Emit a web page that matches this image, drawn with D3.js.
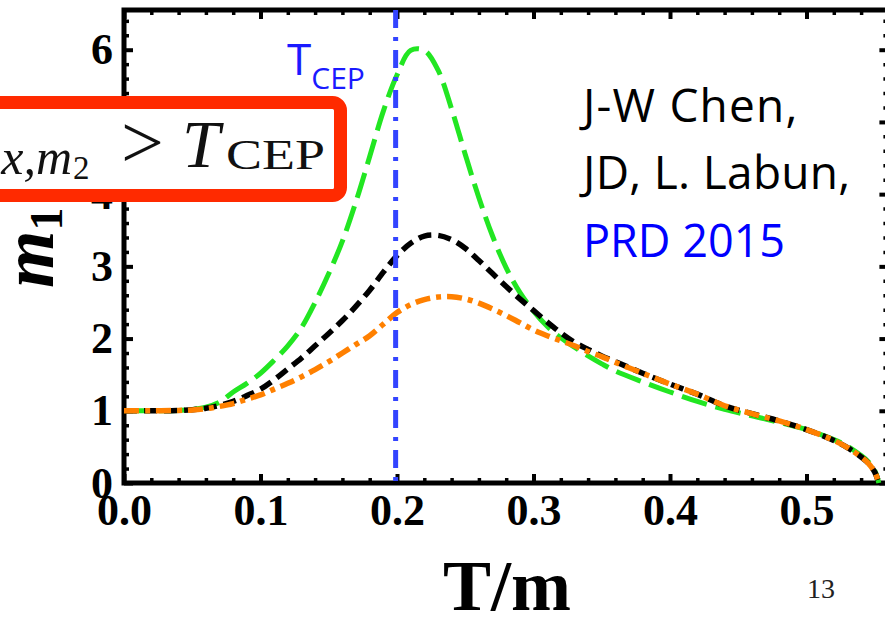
<!DOCTYPE html>
<html>
<head>
<meta charset="utf-8">
<script src="https://cdn.jsdelivr.net/npm/d3@7"></script>
<style>
  body { margin: 0; background: #fff; }
  svg { display: block; }
</style>
</head>
<body>
<div id="chart"></div>
<script>
// Canvas size
const width = 885;
const height = 621;

// Data (T/m on x, m1 on y)
const tGrid = [0, 0.02, 0.04, 0.05, 0.06, 0.07, 0.08, 0.09, 0.10, 0.11, 0.12, 0.13, 0.14, 0.15,
  0.16, 0.17, 0.18, 0.19, 0.20, 0.21, 0.22, 0.23, 0.24, 0.25, 0.26, 0.27, 0.28, 0.29, 0.30,
  0.31, 0.32, 0.33, 0.34, 0.35, 0.36, 0.38, 0.40, 0.42, 0.44, 0.46, 0.48, 0.50, 0.52, 0.53,
  0.54, 0.545, 0.55, 0.553];

const greenM = [1.0, 1.0, 1.005, 1.02, 1.05, 1.12, 1.26, 1.38, 1.52, 1.70, 1.90, 2.15, 2.50, 2.90,
  3.35, 3.90, 4.52, 5.15, 5.65, 5.99, 5.99, 5.72, 5.18, 4.55, 3.95, 3.42, 2.98, 2.64, 2.38,
  2.17, 2.01, 1.88, 1.76, 1.65, 1.55, 1.40, 1.26, 1.13, 1.02, 0.93, 0.84, 0.74, 0.60, 0.51,
  0.38, 0.30, 0.17, 0.0];

const blackM = [1.0, 1.0, 1.005, 1.015, 1.035, 1.075, 1.13, 1.21, 1.30, 1.43, 1.58, 1.73, 1.90, 2.07,
  2.25, 2.45, 2.67, 2.92, 3.15, 3.32, 3.42, 3.43, 3.37, 3.25, 3.08, 2.90, 2.72, 2.55, 2.39,
  2.23, 2.08, 1.95, 1.85, 1.76, 1.68, 1.52, 1.37, 1.23, 1.07, 0.96, 0.86, 0.74, 0.59, 0.49,
  0.36, 0.28, 0.15, 0.0];

const orangeM = [1.0, 1.0, 1.005, 1.012, 1.03, 1.06, 1.10, 1.16, 1.22, 1.30, 1.38, 1.47, 1.57, 1.68,
  1.80, 1.92, 2.04, 2.20, 2.36, 2.47, 2.54, 2.575, 2.58, 2.55, 2.49, 2.41, 2.32, 2.22, 2.12,
  2.04, 1.97, 1.90, 1.82, 1.75, 1.67, 1.52, 1.37, 1.23, 1.07, 0.96, 0.86, 0.74, 0.59, 0.49,
  0.36, 0.28, 0.15, 0.0];

const tCep = 0.199;

// Tick values
const xMajor = [0, 0.1, 0.2, 0.3, 0.4, 0.5];
const xMinor = d3.range(0.02, 0.56, 0.02).filter(v => Math.abs(v * 10 - Math.round(v * 10)) > 1e-6);
const yMajor = [0, 1, 2, 3, 4, 5, 6];
const yMinor = d3.range(0.2, 6.55, 0.2).filter(v => Math.abs(v - Math.round(v)) > 1e-6);

const svg = d3.select("#chart").append("svg")
    .attr("width", width)
    .attr("height", height);

svg.append("rect").attr("width", width).attr("height", height).attr("fill", "#fff");

// Scales
const x = d3.scaleLinear().domain([0, 0.56]).range([124, 888.4]);
const y = d3.scaleLinear().domain([0, 6.55]).range([483, 10]);

const tickFont = "'Liberation Serif', 'Times New Roman', serif";

// Axes with inward ticks on all four sides
function styleAxis(g, width) {
  g.select(".domain").remove();
  g.selectAll("line").attr("stroke", "#000").attr("stroke-width", width);
}

// minor ticks
svg.append("g").attr("transform", `translate(0,${y(0)})`)
  .call(d3.axisBottom(x).tickValues(xMinor).tickSize(-5).tickSizeOuter(0).tickFormat(""))
  .call(g => styleAxis(g, 3.5));
svg.append("g").attr("transform", `translate(0,${y(6.55)})`)
  .call(d3.axisTop(x).tickValues(xMinor).tickSize(-5).tickSizeOuter(0).tickFormat(""))
  .call(g => styleAxis(g, 3.5));
svg.append("g").attr("transform", `translate(${x(0)},0)`)
  .call(d3.axisLeft(y).tickValues(yMinor).tickSize(-5).tickSizeOuter(0).tickFormat(""))
  .call(g => styleAxis(g, 3.5));
svg.append("g").attr("transform", `translate(${x(0.56)},0)`)
  .call(d3.axisRight(y).tickValues(yMinor).tickSize(-5).tickSizeOuter(0).tickFormat(""))
  .call(g => styleAxis(g, 3.5));

// major ticks with labels
const xAxis = svg.append("g").attr("transform", `translate(0,${y(0)})`)
  .call(d3.axisBottom(x).tickValues(xMajor).tickSize(-9).tickSizeOuter(0).tickPadding(11)
    .tickFormat(d3.format(".1f")))
  .call(g => styleAxis(g, 4));
xAxis.selectAll("text")
  .attr("font-family", tickFont).attr("font-weight", "bold")
  .attr("font-size", 44).attr("fill", "#000");

const yAxis = svg.append("g").attr("transform", `translate(${x(0)},0)`)
  .call(d3.axisLeft(y).tickValues(yMajor).tickSize(-9).tickSizeOuter(0).tickPadding(11)
    .tickFormat(d3.format("d")))
  .call(g => styleAxis(g, 4));
yAxis.selectAll("text")
  .attr("font-family", tickFont).attr("font-weight", "bold")
  .attr("font-size", 44).attr("fill", "#000");

svg.append("g").attr("transform", `translate(0,${y(6.55)})`)
  .call(d3.axisTop(x).tickValues(xMajor).tickSize(-9).tickSizeOuter(0).tickFormat(""))
  .call(g => styleAxis(g, 4));
svg.append("g").attr("transform", `translate(${x(0.56)},0)`)
  .call(d3.axisRight(y).tickValues(yMajor).tickSize(-9).tickSizeOuter(0).tickFormat(""))
  .call(g => styleAxis(g, 4));

// Frame
svg.append("rect")
  .attr("x", x(0)).attr("y", y(6.55))
  .attr("width", x(0.56) - x(0)).attr("height", y(0) - y(6.55))
  .attr("fill", "none").attr("stroke", "#000").attr("stroke-width", 5);

// Curves
const line = d3.line()
  .x(d => x(d[0]))
  .y(d => y(d[1]))
  .curve(d3.curveCatmullRom.alpha(0.5));

const series = [
  { values: greenM, color: "#22e622", dash: "26,9", width: 5 },
  { values: blackM, color: "#000000", dash: "13,7", width: 5.5 },
  { values: orangeM, color: "#ff8000", dash: "15,6,5,6", width: 5.5 }
];

series.forEach(s => {
  svg.append("path")
    .datum(tGrid.map((t, i) => [t, s.values[i]]))
    .attr("d", line)
    .attr("fill", "none")
    .attr("stroke", s.color)
    .attr("stroke-width", s.width)
    .attr("stroke-dasharray", s.dash);
});

// T_CEP vertical line
svg.append("line")
  .attr("x1", x(tCep)).attr("x2", x(tCep))
  .attr("y1", y(6.55)).attr("y2", y(0))
  .attr("stroke", "#3344ff").attr("stroke-width", 5)
  .attr("stroke-dasharray", "18,9,4,9");

const sans = "'Open Sans', 'Noto Sans', sans-serif";

// T_CEP label
const tl = svg.append("text")
  .attr("x", 287).attr("y", 75)
  .attr("font-family", sans).attr("fill", "#1a1aff");
tl.append("tspan").attr("font-size", 44).text("T");
tl.append("tspan").attr("font-size", 30).attr("dy", 14).text("CEP");

// Citation text
svg.append("text").attr("x", 583).attr("y", 122)
  .attr("font-family", sans).attr("font-size", 46).attr("letter-spacing", 1.2)
  .attr("fill", "#000").text("J-W Chen,");
svg.append("text").attr("x", 583).attr("y", 189)
  .attr("font-family", sans).attr("font-size", 46).attr("letter-spacing", 0.3)
  .attr("fill", "#000").text("JD, L. Labun,");
svg.append("text").attr("x", 583).attr("y", 257)
  .attr("font-family", sans).attr("font-size", 45).attr("fill", "#0000ff").text("PRD 2015");

// Red box with condition
svg.append("rect")
  .attr("x", -20).attr("y", 102.5)
  .attr("width", 360.5).attr("height", 93)
  .attr("rx", 8).attr("ry", 8)
  .attr("fill", "#fff").attr("stroke", "#ff2a00").attr("stroke-width", 13);

const serif = "'Liberation Serif', 'Times New Roman', serif";
svg.append("text").attr("x", 72).attr("y", 174).attr("text-anchor", "end")
  .attr("font-family", serif).attr("font-style", "italic").attr("font-size", 50)
  .attr("fill", "#111").text("max,m");
svg.append("text").attr("x", 73).attr("y", 179)
  .attr("font-family", serif).attr("font-size", 33).attr("fill", "#111").text("2");
svg.append("text").attr("x", 121).attr("y", 168)
  .attr("font-family", serif).attr("font-size", 76).attr("fill", "#111").text(">");
svg.append("text").attr("x", 182).attr("y", 167)
  .attr("font-family", serif).attr("font-style", "italic").attr("font-size", 68)
  .attr("fill", "#111").text("T");
svg.append("text").attr("x", 226).attr("y", 169)
  .attr("font-family", serif).attr("font-size", 42)
  .attr("textLength", 99).attr("lengthAdjust", "spacingAndGlyphs")
  .attr("fill", "#111").text("CEP");

// Axis titles
const yl = svg.append("text")
  .attr("transform", "translate(53,288) rotate(-90)")
  .attr("font-family", serif).attr("font-weight", "bold").attr("font-style", "italic")
  .attr("fill", "#000");
yl.append("tspan").attr("font-size", 74).text("m");
yl.append("tspan").attr("font-size", 46).attr("dy", 9).attr("font-style", "normal").text("1");

svg.append("text").attr("x", 507).attr("y", 610).attr("text-anchor", "middle")
  .attr("font-family", serif).attr("font-weight", "bold").attr("font-size", 72)
  .attr("fill", "#000").text("T/m");

// Page number
svg.append("text").attr("x", 821).attr("y", 598).attr("text-anchor", "middle")
  .attr("font-family", serif).attr("font-size", 28).attr("fill", "#222").text("13");
</script>
</body>
</html>
